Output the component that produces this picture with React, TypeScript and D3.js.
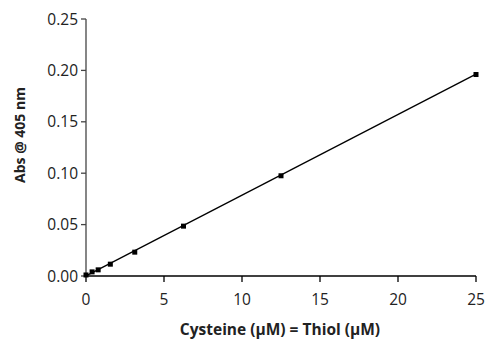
import React from "react";
import * as d3 from "d3";

const concentrations = [0, 0.39, 0.78, 1.56, 3.125, 6.25, 12.5, 25];
const absorbance = [0.001, 0.004, 0.006, 0.0115, 0.0232, 0.0485, 0.0975, 0.196];
const xTicks = [0, 5, 10, 15, 20, 25];
const yTicks = [0, 0.05, 0.1, 0.15, 0.2, 0.25];
const fitSlope = 0.00785;
const fitIntercept = 0.0001;

export default function App() {
  const W = 486, H = 341;
  const x = d3.scaleLinear().domain([0, 25]).range([86, 476]);
  const y = d3.scaleLinear().domain([0, 0.25]).range([276, 19]);
  const font = "'Open Sans', 'Liberation Sans', sans-serif";
  const fitLine = d3.line<number>().x(d => x(d)).y(d => y(fitSlope * d + fitIntercept));
  return (
    <svg width={W} height={H} style={{ position: "absolute", left: 0, top: 0 }} fontFamily={font}>
      <rect width={W} height={H} fill="#fff" />
      <line x1={x(0)} x2={x(25)} y1={y(0)} y2={y(0)} stroke="#000" strokeWidth={1.3} />
      <line x1={x(0)} x2={x(0)} y1={y(0)} y2={y(0.25)} stroke="#444" strokeWidth={1.3} />
      {xTicks.map(t => (
        <g key={"x" + t}>
          <line x1={x(t)} x2={x(t)} y1={y(0)} y2={y(0) + 6} stroke="#000" strokeWidth={1.3} />
          <text x={x(t)} y={y(0) + 29} textAnchor="middle" fontSize={15.5} fill="#222">{t}</text>
        </g>
      ))}
      {yTicks.map(t => (
        <g key={"y" + t}>
          <line x1={x(0) - 5} x2={x(0)} y1={y(t)} y2={y(t)} stroke="#444" strokeWidth={1.3} />
          <text x={x(0) - 8} y={y(t) + 5.5} textAnchor="end" fontSize={15.5} fill="#222">{t.toFixed(2)}</text>
        </g>
      ))}
      <path d={fitLine([0, 25]) || ""} fill="none" stroke="#000" strokeWidth={1.3} />
      {concentrations.map((c, i) => (
        <rect key={"p" + i} x={x(c) - 2.5} y={y(absorbance[i]) - 2.5} width={5} height={5} fill="#000" />
      ))}
      <text x={280} y={335} textAnchor="middle" fontSize={15.5} fontWeight="bold" fill="#222">Cysteine (µM) = Thiol (µM)</text>
      <text transform={`translate(25,135) rotate(-90)`} textAnchor="middle" fontSize={14} fontWeight="bold" fill="#222">Abs @ 405 nm</text>
    </svg>
  );
}
